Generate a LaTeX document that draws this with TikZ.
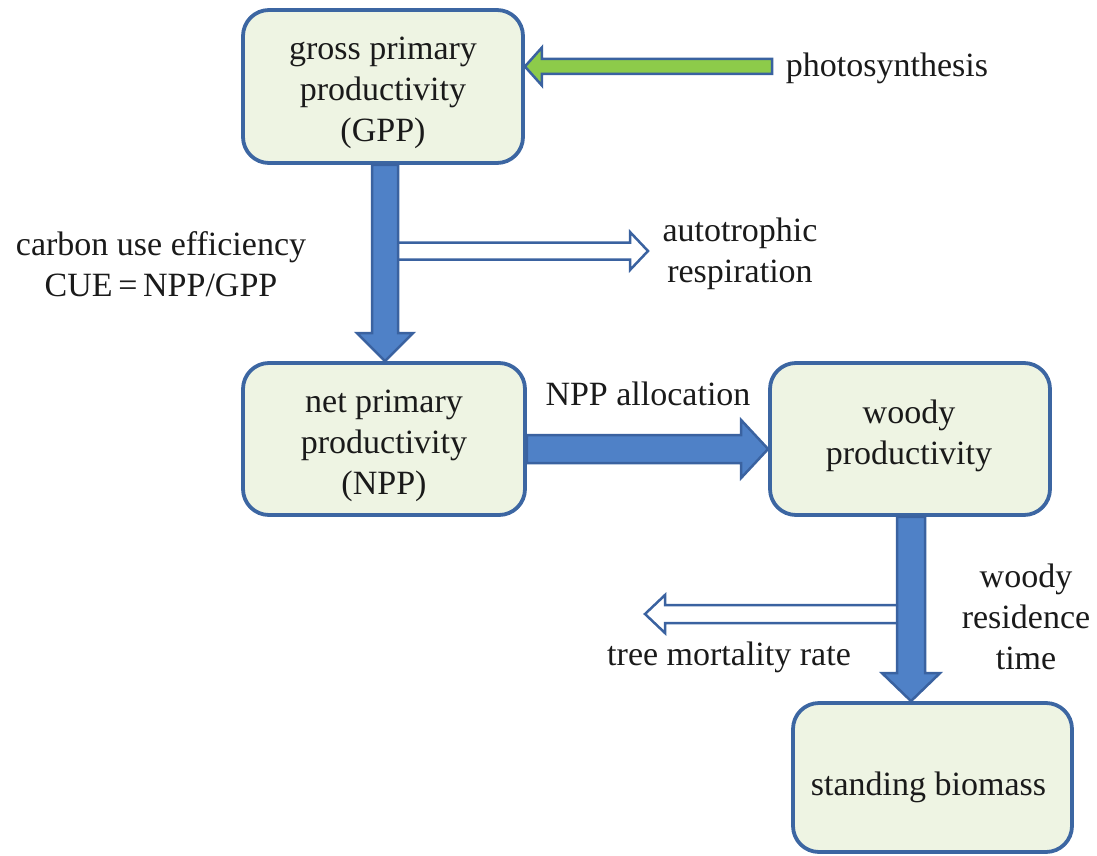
\documentclass[tikz,border=0pt]{standalone}
\usepackage{fontspec}
\setmainfont{Liberation Serif}
\usetikzlibrary{calc}
\definecolor{boxfill}{HTML}{EEF4E3}
\definecolor{boxline}{HTML}{3C66A2}
\definecolor{arrfill}{HTML}{4F81C7}
\definecolor{arrline}{HTML}{3A62A0}
\definecolor{greenfill}{HTML}{8DCB4A}
\definecolor{txt}{HTML}{1A1A1A}
\newcommand\vArrow[6]{%
  \draw[#6] let \p1=(#1), \p2=(#2) in
    (\x1-#3,\y1) -- (\x1-#3,\y2+#5) -- (\x1-#4,\y2+#5) -- (\x1,\y2)
    -- (\x1+#4,\y2+#5) -- (\x1+#3,\y2+#5) -- (\x1+#3,\y1) -- cycle;}
\newcommand\hArrow[6]{%
  \draw[#6] let \p1=(#1), \p2=(#2) in
    (\x1,\y1-#3) -- (\x2-#5,\y1-#3) -- (\x2-#5,\y1-#4) -- (\x2,\y1)
    -- (\x2-#5,\y1+#4) -- (\x2-#5,\y1+#3) -- (\x1,\y1+#3) -- cycle;}
\newcommand\hArrowL[6]{%
  \draw[#6] let \p1=(#1), \p2=(#2) in
    (\x1,\y1-#3) -- (\x2+#5,\y1-#3) -- (\x2+#5,\y1-#4) -- (\x2,\y1)
    -- (\x2+#5,\y1+#4) -- (\x2+#5,\y1+#3) -- (\x1,\y1+#3) -- cycle;}
\tikzset{
  box/.style={draw=boxline, fill=boxfill, line width=3.8pt, rounded corners=26pt,
    inner sep=0pt},
  lbl/.style={align=center, inner sep=0pt, text=txt, font=\fontsize{34}{41}\selectfont},
  bigarrow/.style={fill=arrfill, draw=arrline, line width=2.5pt, line join=miter},
  hollowarrow/.style={fill=white, draw=arrline, line width=2.5pt, line join=miter},
  greenarrow/.style={fill=greenfill, draw=arrline, line width=2.5pt, line join=miter},
}
\begin{document}
\begin{tikzpicture}[x=1pt,y=-1pt]
\useasboundingbox (0,0) rectangle (1097,856);
% boxes
\node[box, minimum width=280pt, minimum height=153pt] (gpp) at (383,86.5) {};
\node[box, minimum width=282pt, minimum height=152pt] (npp) at (384,439) {};
\node[box, minimum width=280pt, minimum height=152pt] (woody) at (910,439) {};
\node[box, minimum width=279pt, minimum height=149pt] (sb) at (932.5,777.5) {};
% box texts
\node[lbl] (gppt) at ($(gpp)+(0,6)$) {gross primary\\productivity\\(GPP)};
\node[lbl] (nppt) at ($(npp)+(0,7)$) {net primary\\productivity\\(NPP)};
\node[lbl] (woodyt) at ($(woody)+(-1,-3)$) {woody\\productivity};
\node[lbl] (sbt) at ($(sb)+(-4,10)$) {standing biomass};
% labels
\node[lbl] (photo) at (887,68) {photosynthesis};
\node[lbl] (cue) at (161,264) {carbon use efficiency\\CUE\,=\,NPP/GPP};
\node[lbl] (auto) at (740,254) {autotrophic\\respiration};
\node[lbl] (alloc) at (648,394) {NPP allocation};
\node[lbl] (resid) at (1026,617) {woody\\residence\\time};
\node[lbl] (mort) at (729,657) {tree mortality rate};
% free ends
\coordinate (ar1s) at (392,251);
\coordinate (ar1e) at (648,251);
\coordinate (grs) at (772,66.5);
\coordinate (mos) at (905,614);
\coordinate (moe) at (645,614);
% hollow arrows (below blue shafts)
\hArrow{ar1s}{ar1e}{8.5pt}{19pt}{18pt}{hollowarrow}
\hArrowL{mos}{moe}{9pt}{19pt}{20pt}{hollowarrow}
% green arrow
\hArrowL{grs}{$(gpp.east)+(0,-20)$}{7.5pt}{19pt}{17pt}{greenarrow}
% big blue arrows
\vArrow{$(gpp.south)+(2,0)$}{$(npp.north)+(1,0)$}{13pt}{28pt}{28pt}{bigarrow}
\hArrow{$(npp.east)+(0,10)$}{$(woody.west)+(0,10)$}{14pt}{29pt}{27pt}{bigarrow}
\vArrow{$(woody.south)+(1,0)$}{$(woody.south |- sb.north)+(1,0)$}{14pt}{29pt}{28pt}{bigarrow}
\end{tikzpicture}
\end{document}
